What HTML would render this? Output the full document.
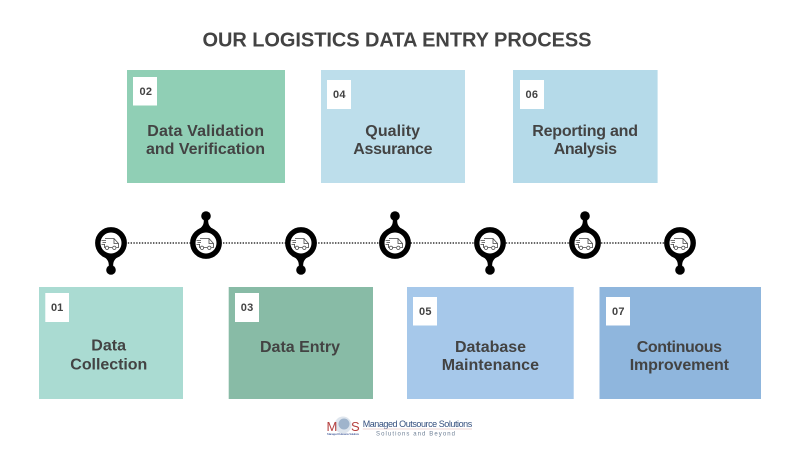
<!DOCTYPE html>
<html>
<head>
<meta charset="utf-8">
<style>
html,body{margin:0;padding:0;background:#fff;width:800px;height:450px;overflow:hidden}
svg{display:block}
text{font-family:"Liberation Sans",sans-serif;font-weight:700;fill:#434343}
.l{font-size:16px}
.n{font-size:11px}
</style>
</head>
<body>
<svg width="800" height="450" viewBox="0 0 800 450" xmlns="http://www.w3.org/2000/svg">
<defs>
<g id="pin">
  <path d="M-8 13 C-4 16 -2 18 -2.2 23 L2.2 23 C2 18 4 16 8 13 Z" fill="#000"/>
  <circle cx="0" cy="27" r="4.8" fill="#000"/>
  <circle cx="0" cy="0" r="13.2" fill="#fff" stroke="#000" stroke-width="5.4"/>
</g>
<g id="truck" fill="none" stroke="#444" stroke-width=".8">
  <path d="M-6 -4.5 H3 L7.5 0.5 V4.5 H5.5 M1 4.5 H-2 M-6 4.5 H-6.5 V1"/>
  <path d="M3 -4.5 V0.5 H7.5"/>
  <circle cx="3.3" cy="4.8" r="1.7"/>
  <circle cx="-4" cy="4.8" r="1.7"/>
  <path d="M-9.5 -2.5 H-5 M-8.5 -.5 H-5 M-9.5 1.5 H-6"/>
</g>
</defs>

<text x="202.5" y="46.5" font-size="20" textLength="389">OUR LOGISTICS DATA ENTRY PROCESS</text>

<!-- top boxes -->
<rect x="127" y="70" width="158" height="113" fill="#90CFB5"/>
<rect x="133" y="77" width="24" height="28.5" fill="#fff"/>
<text class="n" x="139.5" y="95" textLength="12.5">02</text>
<text class="l" x="147.3" y="136" textLength="116.7">Data Validation</text>
<text class="l" x="146" y="154" textLength="119">and Verification</text>

<rect x="321" y="70" width="144" height="113" fill="#BDDEEB"/>
<rect x="327" y="80" width="24" height="29" fill="#fff"/>
<text class="n" x="333" y="98" textLength="12.5">04</text>
<text class="l" x="365.3" y="136" textLength="54.7">Quality</text>
<text class="l" x="353.3" y="154" textLength="79.2">Assurance</text>

<rect x="513" y="70" width="144.6" height="113" fill="#B5DAE9"/>
<rect x="520" y="80" width="24" height="29" fill="#fff"/>
<text class="n" x="525.5" y="98" textLength="12.5">06</text>
<text class="l" x="532.3" y="136" textLength="105.7">Reporting and</text>
<text class="l" x="553.7" y="154" textLength="63.3">Analysis</text>

<!-- timeline -->
<line x1="111" y1="243" x2="680" y2="243" stroke="#333" stroke-width="1.4" stroke-dasharray="1.4 1.4"/>
<use href="#pin" transform="translate(111,243)"/>
<use href="#pin" transform="translate(206,243) scale(1,-1)"/>
<use href="#pin" transform="translate(301,243)"/>
<use href="#pin" transform="translate(395,243) scale(1,-1)"/>
<use href="#pin" transform="translate(490,243)"/>
<use href="#pin" transform="translate(585,243) scale(1,-1)"/>
<use href="#pin" transform="translate(680,243)"/>
<use href="#truck" transform="translate(111,243)"/>
<use href="#truck" transform="translate(206,243)"/>
<use href="#truck" transform="translate(301,243)"/>
<use href="#truck" transform="translate(395,243)"/>
<use href="#truck" transform="translate(490,243)"/>
<use href="#truck" transform="translate(585,243)"/>
<use href="#truck" transform="translate(680,243)"/>

<!-- bottom boxes -->
<rect x="39" y="287" width="144" height="112" fill="#AADBD2"/>
<rect x="45.3" y="293" width="23.7" height="29" fill="#fff"/>
<text class="n" x="51" y="311">01</text>
<text class="l" x="91.3" y="350.5" textLength="34.7">Data</text>
<text class="l" x="70.3" y="369.5" textLength="77">Collection</text>

<rect x="228.7" y="287" width="144.3" height="112" fill="#88BBA6"/>
<rect x="235" y="293" width="24" height="29" fill="#fff"/>
<text class="n" x="240.7" y="311" textLength="12.5">03</text>
<text class="l" x="260" y="352" textLength="80">Data Entry</text>

<rect x="407" y="287" width="166.7" height="112" fill="#A6C8EA"/>
<rect x="413" y="297" width="24" height="28.5" fill="#fff"/>
<text class="n" x="419" y="315" textLength="12.5">05</text>
<text class="l" x="455" y="352" textLength="71">Database</text>
<text class="l" x="441.7" y="370" textLength="97.3">Maintenance</text>

<rect x="599.5" y="287" width="161.5" height="112" fill="#8FB6DD"/>
<rect x="606" y="297" width="24" height="28.5" fill="#fff"/>
<text class="n" x="612" y="315" textLength="12.5">07</text>
<text class="l" x="636.7" y="352" textLength="85.3">Continuous</text>
<text class="l" x="629.7" y="370" textLength="99.3">Improvement</text>

<!-- logo -->
<circle cx="343" cy="425" r="8.5" fill="#dfe6ee"/>
<circle cx="344" cy="424" r="5.5" fill="#9fb4cc"/>
<text x="326.5" y="431" font-size="13" style="fill:#b5403f;font-weight:400" textLength="12">M</text>
<text x="351" y="431" font-size="13" style="fill:#b5403f;font-weight:400" textLength="8">S</text>
<text x="327" y="435" font-size="3" style="fill:#2f4a8f;font-weight:400" textLength="32">Managed Outsource Solutions</text>
<text x="362.7" y="427" font-size="9" style="fill:#34507f;font-weight:400" textLength="109.5">Managed Outsource Solutions</text>
<line x1="362.7" y1="429" x2="472" y2="429" stroke="#e9c9c9" stroke-width=".7"/>
<text x="376" y="435.5" font-size="6" style="fill:#6d7f95;font-weight:400" textLength="79">Solutions and Beyond</text>
</svg>
</body>
</html>
